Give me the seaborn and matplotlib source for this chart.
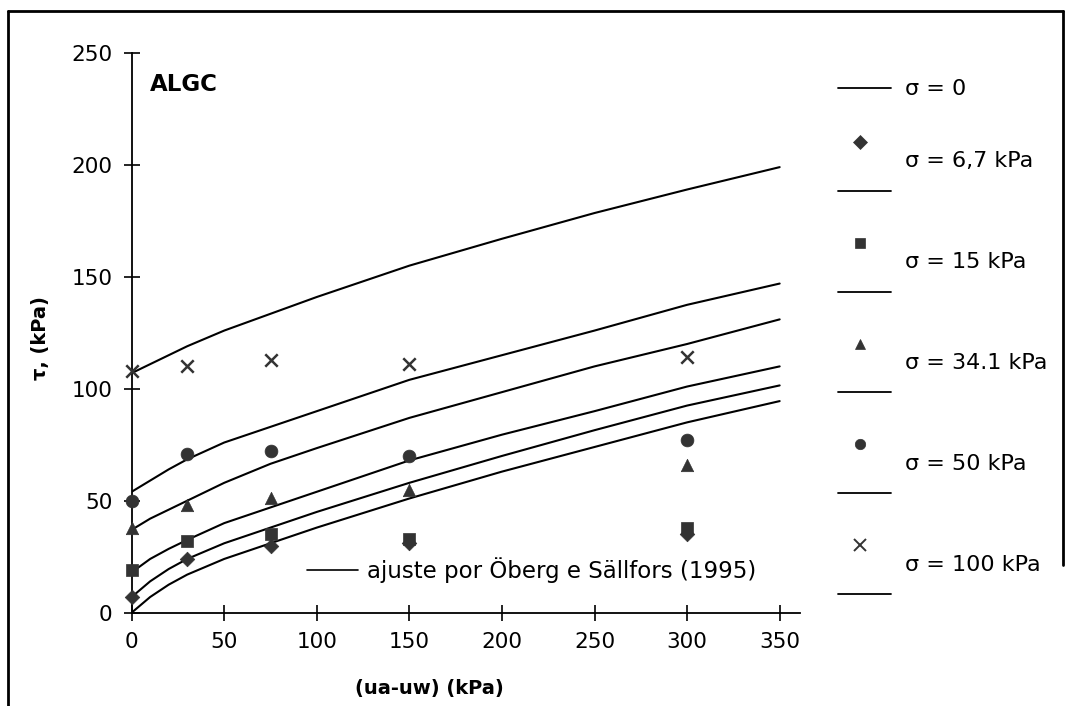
import numpy as np
import pandas as pd
import matplotlib
matplotlib.use("Agg")
import matplotlib.pyplot as plt
from matplotlib.lines import Line2D
from matplotlib.legend_handler import HandlerBase
import seaborn as sns

# ---------------- data ----------------
curve_x = [0, 10, 20, 30, 50, 75, 100, 150, 200, 250, 300, 350]
fit_s0 = [0, 7, 12.5, 17, 24, 31, 38, 51, 63, 74, 85, 94.5]
fit_s6_7 = [7, 14, 19.5, 24, 31, 38, 45, 58, 70, 81.5, 92.5, 101.5]
fit_s15 = [18, 24, 28.5, 32.5, 40, 47, 54, 68, 79.5, 90, 101, 110]
fit_s34_1 = [37, 42, 46, 50, 58, 66.5, 73.5, 87, 98.5, 110, 120, 131]
fit_s50 = [54, 59, 64, 68.5, 76, 83, 90, 104, 115, 126, 137.5, 147]
fit_s100 = [107, 111, 115, 119, 126, 133.5, 141, 155, 167, 178.5, 189, 199]

point_x = [0, 30, 75, 150, 300]
pts_s6_7 = [7, 24, 30, 31, 35]
pts_s15 = [19, 32, 35, 33, 38]
pts_s34_1 = [38, 48, 51, 55, 66]
pts_s50 = [50, 71, 72, 70, 77]
pts_s100 = [108, 110, 113, 111, 114]

series_labels = ["σ = 0", "σ = 6,7 kPa", "σ = 15 kPa", "σ = 34.1 kPa",
                 "σ = 50 kPa", "σ = 100 kPa"]
x_ticks = [0, 50, 100, 150, 200, 250, 300, 350]
y_ticks = [0, 50, 100, 150, 200, 250]

# ---------------- style ----------------
sns.set_style("white")
plt.rcParams['font.family'] = ['DejaVu Sans']
plt.rcParams['text.color'] = 'black'
plt.rcParams['axes.labelcolor'] = 'black'

fig = plt.figure(figsize=(10.73, 7.06), dpi=100)
ax = fig.add_axes([0.1227, 0.1322, 0.6229, 0.7928])

fits = [fit_s0, fit_s6_7, fit_s15, fit_s34_1, fit_s50, fit_s100]
curve_df = pd.concat([
    pd.DataFrame({"x": curve_x, "y": f, "serie": lab})
    for f, lab in zip(fits, series_labels)
])
sns.lineplot(data=curve_df, x="x", y="y", hue="serie",
             palette=["black"] * len(series_labels), estimator=None,
             sort=False, legend=False, linewidth=1.5, ax=ax)

pts = [pts_s6_7, pts_s15, pts_s34_1, pts_s50, pts_s100]
markers = ["D", "s", "^", "o", "x"]
msizes = [55, 65, 80, 85, 80]
mcol = "#333333"
for p, m, s in zip(pts, markers, msizes):
    if m == "x":
        sns.scatterplot(x=point_x, y=p, marker=m, s=s, color=mcol,
                        linewidth=1.8, ax=ax, zorder=3, clip_on=False)
    else:
        sns.scatterplot(x=point_x, y=p, marker=m, s=s, color=mcol,
                        edgecolor=mcol, linewidth=0.5, ax=ax, zorder=3,
                        clip_on=False)

ax.set_xlim(0, 361)
ax.set_ylim(0, 250)
ax.set_xticks(x_ticks)
ax.set_yticks(y_ticks)
for sp in ["top", "right"]:
    ax.spines[sp].set_visible(False)
for sp in ["left", "bottom"]:
    ax.spines[sp].set_color("black")
    ax.spines[sp].set_linewidth(1.3)
ax.tick_params(axis="both", bottom=True, left=True, direction="inout",
               length=12, width=1.2, labelsize=15.5, colors="black")
ax.tick_params(axis="x", pad=8)
ax.tick_params(axis="y", pad=8)

ax.set_xlabel("(ua-uw) (kPa)", fontsize=14, fontweight="bold")
ax.xaxis.set_label_coords(0.445, -0.118)
ax.set_ylabel("τ, (kPa)", fontsize=14, fontweight="bold")
ax.yaxis.set_label_coords(-0.122, 0.49)

ax.text(0.027, 0.943, "ALGC", transform=ax.transAxes, fontsize=16.5,
        fontweight="bold", va="center", ha="left", color="black")

# inner legend for the fitted curves
fit_handle = Line2D([], [], color="black", linewidth=1.2)
ax.legend([fit_handle], ["ajuste por Öberg e Sällfors (1995)"],
          loc="lower left", bbox_to_anchor=(0.232, 0.016),
          frameon=False, fontsize=16.5, handlelength=2.2,
          handletextpad=0.4, labelcolor="black")


class MarkerOverLine(HandlerBase):
    def create_artists(self, legend, orig_handle, xdescent, ydescent,
                       width, height, fontsize, trans):
        cx = width * 0.42 - xdescent
        mk = Line2D([cx], [height / 2 + 0.8 * fontsize],
                    marker=orig_handle.get_marker(),
                    markersize=orig_handle.get_markersize(),
                    markeredgewidth=orig_handle.get_markeredgewidth(),
                    color=mcol, linestyle="none", transform=trans)
        ln = Line2D([-xdescent, width - xdescent],
                    [height / 2 - 1.4 * fontsize] * 2,
                    color="black", linewidth=1.3, transform=trans)
        return [mk, ln]


leg_fs = 16
fig.legend([Line2D([], [], color="black", linewidth=1.3)],
           series_labels[:1], loc="upper left",
           bbox_to_anchor=(0.762, 0.916), frameon=False,
           fontsize=leg_fs, handlelength=2.4, handletextpad=0.62,
           labelcolor="black")

handles = []
hmap = {}
for m in markers:
    h = Line2D([], [], marker=m, markersize=7.5 if m != "x" else 8,
               markeredgewidth=1.4 if m == "x" else 0.5, linestyle="none")
    handles.append(h)
    hmap[h] = MarkerOverLine()

fig.legend(handles, series_labels[1:], loc="upper left",
           bbox_to_anchor=(0.762, 0.814), frameon=False, fontsize=leg_fs,
           handlelength=2.4, handletextpad=0.62, labelspacing=3.64,
           handler_map=hmap, labelcolor="black")

# outer frame of the picture
fr = dict(color="black", linewidth=2.0, transform=fig.transFigure)
fig.add_artist(Line2D([0.0075, 0.0075], [0.0, 0.985], **fr))
fig.add_artist(Line2D([0.0075, 0.991], [0.985, 0.985], **fr))
fig.add_artist(Line2D([0.991, 0.991], [0.985, 0.2], **fr))

fig.savefig("out.png", dpi=100, facecolor="white")
